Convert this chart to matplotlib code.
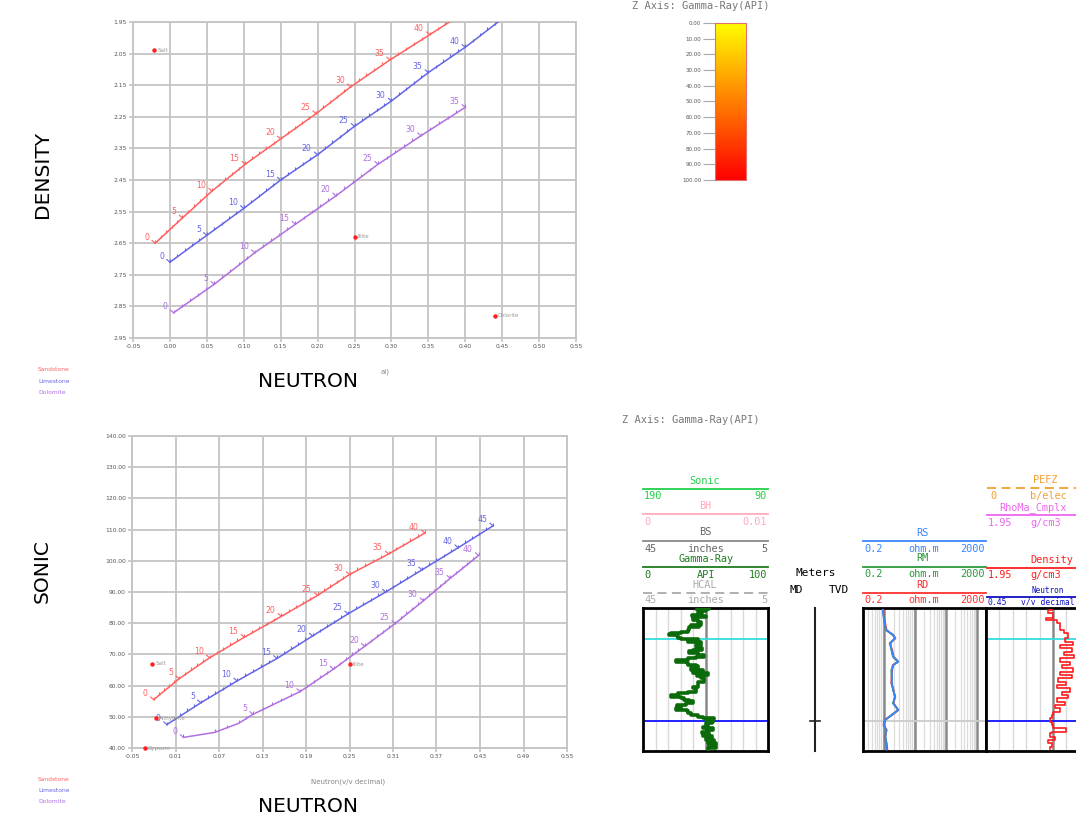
import numpy as np
import matplotlib
matplotlib.use('Agg')
import matplotlib.pyplot as plt
from matplotlib.path import Path
from matplotlib.colors import LinearSegmentedColormap
from matplotlib.patches import Rectangle

# ---------------- data: density-neutron crossplot ----------------
ss_phi_top = [0, 5, 10, 15, 20, 25, 30, 35, 40, 45]
ss_neu_top = [-0.02, 0.017, 0.057, 0.102, 0.150, 0.198, 0.245, 0.298, 0.352, 0.405]
ss_den_top = [2.65, 2.57, 2.485, 2.40, 2.32, 2.24, 2.155, 2.07, 1.99, 1.91]
ls_phi_top = [0, 5, 10, 15, 20, 25, 30, 35, 40, 45]
ls_neu_top = [0.0, 0.05, 0.10, 0.15, 0.20, 0.25, 0.30, 0.35, 0.40, 0.45]
ls_den_top = [2.71, 2.625, 2.54, 2.45, 2.37, 2.28, 2.20, 2.11, 2.03, 1.94]
dl_phi_top = [0, 5, 10, 15, 20, 25, 30, 35]
dl_neu_top = [0.005, 0.06, 0.115, 0.17, 0.225, 0.282, 0.34, 0.40]
dl_den_top = [2.87, 2.78, 2.68, 2.59, 2.50, 2.40, 2.31, 2.22]
min_top_names = ['Salt', 'Illite', 'Chlorite']
min_top_neu = [-0.021, 0.25, 0.44]
min_top_den = [2.04, 2.63, 2.88]
top_xticks = [-0.05, 0.0, 0.05, 0.10, 0.15, 0.20, 0.25, 0.30, 0.35, 0.40, 0.45, 0.50, 0.55]
top_xlabels = ['-0.05', '0.00', '0.05', '0.10', '0.15', '0.20', '0.25', '0.30', '0.35', '0.40', '0.45', '0.50', '0.55']
top_yticks = [1.95, 2.05, 2.15, 2.25, 2.35, 2.45, 2.55, 2.65, 2.75, 2.85, 2.95]
top_ylabels = ['1.95', '2.05', '2.15', '2.25', '2.35', '2.45', '2.55', '2.65', '2.75', '2.85', '2.95']

# ---------------- data: sonic-neutron crossplot ----------------
ss_phi_bot = [0, 5, 10, 15, 20, 25, 30, 35, 40]
ss_neu_bot = [-0.02, 0.015, 0.057, 0.105, 0.156, 0.206, 0.25, 0.304, 0.354]
ss_son_bot = [55.5, 62.2, 68.9, 75.5, 82.2, 88.9, 95.6, 102.2, 108.9]
ls_phi_bot = [0, 5, 10, 15, 20, 25, 30, 35, 40, 45]
ls_neu_bot = [-0.002, 0.045, 0.095, 0.15, 0.199, 0.248, 0.30, 0.35, 0.40, 0.448]
ls_son_bot = [47.5, 54.5, 61.5, 68.7, 75.9, 83.0, 90.0, 97.1, 104.2, 111.2]
dl_phi_bot = [0, 1, 3, 5, 10, 15, 20, 25, 30, 35, 40]
dl_neu_bot = [0.021, 0.064, 0.097, 0.117, 0.182, 0.228, 0.271, 0.313, 0.352, 0.389, 0.428]
dl_son_bot = [43.4, 45.0, 47.9, 50.8, 58.1, 65.3, 72.6, 79.9, 87.2, 94.4, 101.7]
min_bot_names = ['Salt', 'Anhydrite', 'Gypsum', 'Illite']
min_bot_neu = [-0.022, -0.017, -0.032, 0.25]
min_bot_son = [67.0, 49.5, 40.0, 66.8]
bot_xticks = [-0.05, 0.01, 0.07, 0.13, 0.19, 0.25, 0.31, 0.37, 0.43, 0.49, 0.55]
bot_xlabels = ['-0.05', '0.01', '0.07', '0.13', '0.19', '0.25', '0.31', '0.37', '0.43', '0.49', '0.55']
bot_yticks = [40, 50, 60, 70, 80, 90, 100, 110, 120, 130, 140]
bot_ylabels = ['40.00', '50.00', '60.00', '70.00', '80.00', '90.00', '100.00', '110.00', '120.00', '130.00', '140.00']

# ---------------- data: colour bar ----------------
cb_ticks = [0, 10, 20, 30, 40, 50, 60, 70, 80, 90, 100]
cb_labels = ['0.00', '10.00', '20.00', '30.00', '40.00', '50.00', '60.00', '70.00', '80.00', '90.00', '100.00']

# ---------------- data: well log ----------------
gr_depth = [0, 1, 1.5, 2.5, 3, 5, 7, 8, 8.5, 9.5, 11.7, 14, 16.7, 18, 19, 20, 22, 23.4, 24.5, 25.5,
            26.7, 27.5, 30, 31, 33, 34, 36.7, 38.4, 40, 41.7, 43, 45, 46.5, 48.4, 50, 52, 53.4, 54.5,
            56.7, 58, 60, 62, 63.4, 65, 66.7, 68, 70, 73.4, 76, 78.4, 80, 83.4, 85, 87, 88.4, 89.5,
            91.7, 93, 95, 96.5, 98.4, 100, 101.7, 103, 105, 106.5, 108.4, 110, 111, 112, 113.5, 115,
            117, 118.4, 120, 121.7, 123.5, 125, 126.7, 128, 130, 131.5, 133.4, 135, 136.5, 138.4, 140, 141.7]
gr_api = [44, 53, 43, 50, 46, 47, 44, 39, 50, 41, 40, 44, 46, 38, 45, 37, 37, 36, 30, 22,
          21, 27, 28, 30, 44, 36, 46, 42, 45, 47, 40, 37, 44, 49, 42, 36, 26, 35,
          36, 42, 44, 38, 48, 40, 52, 43, 46, 49, 44, 44, 40, 42, 36, 28, 22, 30,
          33, 37, 40, 34, 27, 30, 26, 35, 36, 38, 44, 48, 57, 50, 56, 55,
          50, 52, 48, 56, 51, 47, 53, 48, 55, 50, 57, 52, 58, 53, 58, 52]
res_depth = [1.7, 11.7, 21.7, 26.7, 30, 35, 41.7, 48.4, 53.4, 56.7, 61.7, 68.4, 75, 81.7, 88.4,
             95, 101.7, 106.7, 111.7, 116.7, 121.7, 128.4, 135, 141]
rs_ohmm = [0.89, 0.98, 1.14, 2.0, 2.24, 1.54, 1.74, 1.97, 2.86, 1.97, 1.74, 1.78, 1.74, 1.97, 2.24,
           1.97, 2.86, 1.74, 1.06, 0.98, 1.14, 1.09, 1.14, 1.20]
rm_ohmm = [0.90, 1.0, 1.12, 1.95, 2.2, 1.6, 1.7, 1.9, 2.8, 2.0, 1.7, 1.72, 1.8, 1.9, 2.3,
           1.9, 2.9, 1.7, 1.1, 0.97, 1.12, 1.1, 1.16, 1.18]
rd_ohmm = [0.92, 1.02, 1.18, 1.9, 2.3, 1.5, 1.8, 2.0, 2.8, 1.9, 1.8, 1.75, 1.7, 2.0, 2.2,
           2.0, 2.8, 1.8, 1.02, 0.95, 1.2, 1.05, 1.2, 1.25]
den_depth = [1.7, 5, 10, 11.7, 15, 21.7, 25, 30, 33.4, 36.7, 40, 43.4, 46.7, 50, 53.4, 56.7, 60,
             63.4, 66.7, 70, 73.4, 76.7, 80, 83.4, 86.7, 90, 93.4, 96.7, 100, 103.4, 106.7, 110,
             113.4, 116.7, 120, 123.4, 125, 128.4, 131.7, 135, 138.4, 141]
den_gcc = [2.44, 2.415, 2.45, 2.40, 2.48, 2.50, 2.53, 2.565, 2.54, 2.60, 2.50, 2.59, 2.53, 2.61,
           2.50, 2.58, 2.515, 2.60, 2.50, 2.59, 2.49, 2.55, 2.48, 2.58, 2.515, 2.565, 2.48, 2.54,
           2.465, 2.50, 2.45, 2.44, 2.43, 2.44, 2.45, 2.55, 2.44, 2.43, 2.465, 2.415, 2.44, 2.43]
marker_depths = [31.0, 112.4]

# ---------------- figure ----------------
W, H = 1076, 822
fig = plt.figure(figsize=(W / 100, H / 100), dpi=100)
fig.patch.set_facecolor('white')


def px_axes(x0, y0, x1, y1, **kw):
    return fig.add_axes([x0 / W, 1 - y1 / H, (x1 - x0) / W, (y1 - y0) / H], **kw)


SS_C, LS_C, DL_C = '#ff6060', '#6464e6', '#b070e0'
TICK = Path([(0, 0), (0, 1)], [Path.MOVETO, Path.LINETO])
GRID_C = '#c4c4c4'


def setup_cross(ax, xlim, ylim, xt, xl, yt, yl):
    ax.set_xlim(*xlim)
    ax.set_ylim(*ylim)
    ax.set_xticks(xt)
    ax.set_xticklabels(xl)
    ax.set_yticks(yt)
    ax.set_yticklabels(yl)
    ax.grid(True, color=GRID_C, lw=1.3)
    ax.set_axisbelow(True)
    ax.tick_params(length=3, width=1.2, color=GRID_C, labelsize=4.3,
                   labelcolor='#555555', pad=1.5)
    for s in ax.spines.values():
        s.set_color(GRID_C)
        s.set_linewidth(1.3)


def lith(ax, phi, nx, ny, color, ylo, yhi):
    ax.plot(nx, ny, color=color, lw=1.1, zorder=3)
    p = np.arange(0, phi[-1] + 1, 1.0)
    ax.plot(np.interp(p, phi, nx), np.interp(p, phi, ny), ls='none', marker=TICK,
            ms=4.5, mec=color, mew=0.8, zorder=3)
    for ph, x, y in zip(phi, nx, ny):
        if ph % 5 == 0 and ylo <= y <= yhi:
            ax.annotate(f'{int(ph)}', xy=(x, y), xytext=(-6, 6), textcoords='offset pixels',
                        ha='right', va='center', fontsize=5.6, color=color, zorder=4,
                        arrowprops=dict(arrowstyle='-', color=color, lw=0.8,
                                        shrinkA=0, shrinkB=0, relpos=(1, 0.4)))


def minerals(ax, names, xs, ys):
    ax.plot(xs, ys, ls='none', marker='o', ms=2.2, color='#ff2020', clip_on=False, zorder=5)
    for n, x, y in zip(names, xs, ys):
        ax.annotate(n, xy=(x, y), xytext=(3, 0), textcoords='offset pixels', ha='left',
                    va='center', fontsize=4.0, color='#9a9a9a', annotation_clip=False)


# top crossplot
ax1 = px_axes(133, 22, 576, 338)
setup_cross(ax1, (-0.05, 0.55), (2.95, 1.95), top_xticks, top_xlabels, top_yticks, top_ylabels)
lith(ax1, ss_phi_top, ss_neu_top, ss_den_top, SS_C, 1.95, 2.95)
lith(ax1, ls_phi_top, ls_neu_top, ls_den_top, LS_C, 1.95, 2.95)
lith(ax1, dl_phi_top, dl_neu_top, dl_den_top, DL_C, 1.95, 2.95)
minerals(ax1, min_top_names, min_top_neu, min_top_den)

# bottom crossplot
ax2 = px_axes(132, 436, 567, 748)
setup_cross(ax2, (-0.05, 0.55), (40, 140), bot_xticks, bot_xlabels, bot_yticks, bot_ylabels)
lith(ax2, ss_phi_bot, ss_neu_bot, ss_son_bot, SS_C, 40, 140)
lith(ax2, ls_phi_bot, ls_neu_bot, ls_son_bot, LS_C, 40, 140)
lith(ax2, dl_phi_bot, dl_neu_bot, dl_son_bot, DL_C, 40, 140)
minerals(ax2, min_bot_names, min_bot_neu, min_bot_son)

# colour bar
axc = px_axes(715, 23, 746, 180)
cmap = LinearSegmentedColormap.from_list('yr', ['#ffff00', '#ff0000'])
grad = np.linspace(0, 100, 256).reshape(-1, 1)
axc.imshow(grad, cmap=cmap, aspect='auto', extent=[0, 1, 100, 0])
axc.set_ylim(100, 0)
axc.set_xticks([])
axc.set_yticks(cb_ticks)
axc.set_yticklabels(cb_labels)
axc.tick_params(axis='y', length=9, width=0.8, color='#aaaaaa', labelsize=4.0,
                labelcolor='#555555', pad=1)
for s in axc.spines.values():
    s.set_color('#e07070')
    s.set_linewidth(0.8)

# ---------------- log tracks ----------------
D0, D1 = 0, 142.7


def track(x0, x1):
    ax = px_axes(x0, 608.3, x1, 751)
    ax.set_ylim(D1, D0)
    ax.set_yticks([])
    ax.set_xticks([])
    for s in ax.spines.values():
        s.set_color('black')
        s.set_linewidth(2)
    return ax


axg = track(643, 768)
axg.set_xlim(0, 100)
for v in range(10, 100, 10):
    axg.axvline(v, color='#888888' if v == 50 else '#dadada', lw=1.8 if v == 50 else 1.0, zorder=1)
axg.axhline(marker_depths[0], color='#33dddd', lw=1.3, zorder=2)
axg.axhline(marker_depths[1], color='#2020ff', lw=1.4, zorder=2)
axg.plot(gr_api, gr_depth, color='#0b6b0b', lw=2.6, drawstyle='steps-post', zorder=3)

axr = track(862.7, 986)
axr.set_xscale('log')
axr.set_xlim(0.2, 2000)
axr.set_xticks([])
axr.minorticks_off()
for dec in [0.1, 1, 10, 100, 1000]:
    for m in range(2, 10):
        v = dec * m
        if 0.2 < v < 2000:
            axr.axvline(v, color='#dcdcdc', lw=0.9, zorder=1)
for v in [1, 10, 100, 1000]:
    axr.axvline(v, color='#8a8a8a', lw=1.8, zorder=1)
axr.axhline(marker_depths[1], color='#cccccc', lw=1.3, zorder=2)
axr.plot(rd_ohmm, res_depth, color='#ff3030', lw=1.4, zorder=3)
axr.plot(rm_ohmm, res_depth, color='#2a9a3a', lw=1.2, zorder=3)
axr.plot(rs_ohmm, res_depth, color='#3a86ff', lw=1.3, zorder=4)

axd = track(986, 1120)
axd.set_xlim(1.95, 2.95)
for k in range(1, 10):
    v = 1.95 + 0.1 * k
    axd.axvline(v, color='#8a8a8a' if k == 5 else '#dadada', lw=1.8 if k == 5 else 1.0, zorder=1)
axd.axhline(marker_depths[0], color='#33dddd', lw=1.3, zorder=2)
axd.axhline(marker_depths[1], color='#2020ff', lw=1.4, zorder=2)
axd.plot(den_gcc, den_depth, color='#ff1a1a', lw=1.2, drawstyle='steps-post', zorder=3)

# ---------------- overlay (pixel coordinates) ----------------
ov = fig.add_axes([0, 0, 1, 1], zorder=10)
ov.set_xlim(0, W)
ov.set_ylim(H, 0)
ov.axis('off')
ov.patch.set_alpha(0)

MONO = 'DejaVu Sans Mono'
HFS = 7.4


def hdr(x, y, s, c, ha='center', fs=HFS):
    ov.text(x, y, s, color=c, ha=ha, va='center', fontsize=fs, family=MONO)


def hl(x0, x1, y, c, ls='-', lw=1.3):
    ov.plot([x0, x1], [y, y], color=c, lw=lw, ls=ls)


SON_C, BH_C, BS_C, GR_C, HC_C = '#22d04a', '#ffaabb', '#666666', '#1e7d1e', '#aaaaaa'
RS_C, RM_C, RD_C = '#3a86ff', '#2a9a3a', '#ff3030'
PEF_C, RHOMA_C, DEN_C, NEU_C = '#f0a030', '#ee66ee', '#ff2020', '#1010c0'

L1, R1, C1 = 644, 767, 705
hdr(C1, 481, 'Sonic', SON_C); hl(643, 768, 489, SON_C)
hdr(L1, 496, '190', SON_C, 'left'); hdr(R1, 496, '90', SON_C, 'right')
hdr(C1, 506, 'BH', BH_C); hl(643, 768, 514, BH_C)
hdr(L1, 521.5, '0', BH_C, 'left'); hdr(R1, 521.5, '0.01', BH_C, 'right')
hdr(C1, 532, 'BS', BS_C); hl(643, 768, 540.5, '#888888')
hdr(L1, 548.5, '45', BS_C, 'left'); hdr(C1, 548.5, 'inches', BS_C); hdr(R1, 548.5, '5', BS_C, 'right')
hdr(706, 559, 'Gamma-Ray', GR_C); hl(643, 768, 567.3, GR_C)
hdr(L1, 574.5, '0', GR_C, 'left'); hdr(706, 574.5, 'API', GR_C); hdr(R1, 574.5, '100', GR_C, 'right')
hdr(C1, 585, 'HCAL', HC_C); hl(643, 768, 592.5, HC_C, ls=(0, (5, 3)))
hdr(L1, 600, '45', HC_C, 'left'); hdr(C1, 600, 'inches', HC_C); hdr(R1, 600, '5', HC_C, 'right')

hdr(815.5, 573, 'Meters', 'black', fs=8); hdr(796, 589.5, 'MD', 'black', fs=8); hdr(839, 589.5, 'TVD', 'black', fs=8)
ov.plot([815, 815], [608, 751], color='#222222', lw=1.5)
ov.plot([810, 820], [720.7, 720.7], color='#222222', lw=1.2)

L2, R2, C2 = 864, 985, 924
for (yt, yl, yv, name, c) in [(532.7, 540.7, 548.7, 'RS', RS_C), (558, 567.3, 574.3, 'RM', RM_C),
                              (585, 592.7, 600, 'RD', RD_C)]:
    hdr(922, yt, name, c)
    hl(862.7, 986, yl, c)
    hdr(L2, yv, '0.2', c, 'left'); hdr(C2, yv, 'ohm.m', c); hdr(R2, yv, '2000', c, 'right')

hdr(1045, 480, 'PEFZ', PEF_C); hl(987, 1076, 488.3, PEF_C, ls=(0, (5, 3)))
hdr(990, 495.5, '0', PEF_C, 'left'); hdr(1048, 495.5, 'b/elec', PEF_C)
hdr(999, 507.3, 'RhoMa_Cmplx', RHOMA_C, 'left'); hl(987, 1076, 515, RHOMA_C)
hdr(988, 522.7, '1.95', RHOMA_C, 'left'); hdr(1030, 522.7, 'g/cm3', RHOMA_C, 'left')
hdr(1030, 560, 'Density', DEN_C, 'left'); hl(987, 1076, 567.7, DEN_C)
hdr(988, 574.5, '1.95', DEN_C, 'left'); hdr(1030, 574.5, 'g/cm3', DEN_C, 'left')
hdr(1032, 590.5, 'Neutron', NEU_C, 'left', fs=5.5); hl(987, 1076, 596.7, NEU_C)
hdr(988, 602, '0.45', NEU_C, 'left', fs=5.8); hdr(1021, 602, 'v/v decimal', NEU_C, 'left', fs=5.8)

# titles for the z axes
ov.text(701, 6, 'Z Axis: Gamma-Ray(API)', color='#777777', ha='center', va='center', fontsize=7.5, family=MONO)
ov.text(691, 420, 'Z Axis: Gamma-Ray(API)', color='#777777', ha='center', va='center', fontsize=7.5, family=MONO)

# original small axis titles (top one mostly hidden behind the big label)
ov.text(390, 372, 'al)', color='#888888', ha='right', va='center', fontsize=5)
ov.text(348, 781.5, 'Neutron(v/v decimal)', color='#888888', ha='center', va='center', fontsize=5)

# legends
for (y, s, c) in [(369, 'Sandstone', SS_C), (381, 'Limestone', LS_C), (392, 'Dolomite', DL_C),
                  (779, 'Sandstone', SS_C), (790, 'Limestone', LS_C), (801, 'Dolomite', DL_C)]:
    ov.text(38, y, s, color=c, ha='left', va='center', fontsize=4.3)

# big axis labels
ov.text(42, 175, 'DENSITY', rotation=90, ha='center', va='center', fontsize=14.5, color='black')
ov.text(308, 381, 'NEUTRON', ha='center', va='center', fontsize=14.5, color='black')
ov.text(42, 571, 'SONIC', rotation=90, ha='center', va='center', fontsize=14.5, color='black')
ov.text(308, 806, 'NEUTRON', ha='center', va='center', fontsize=14.5, color='black')

fig.savefig('out.png', dpi=100, facecolor='white')
